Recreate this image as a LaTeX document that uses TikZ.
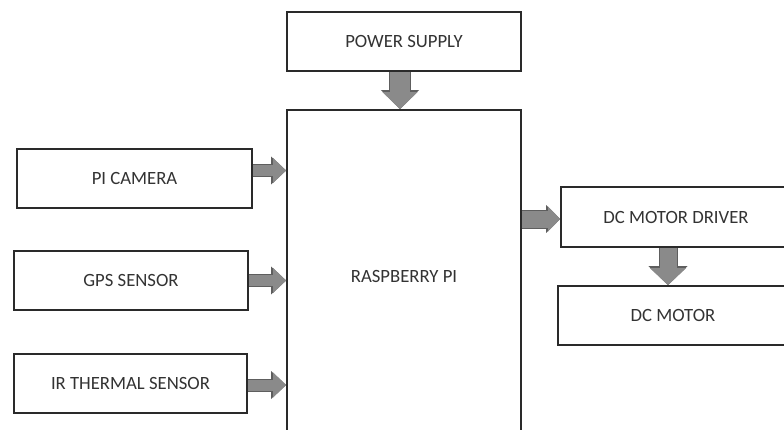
\documentclass[tikz,border=0pt]{standalone}
\usepackage{fontspec}
\setmainfont{Carlito}
\usetikzlibrary{arrows.meta}
\definecolor{arrowfill}{HTML}{8A8A8A}
\definecolor{arrowedge}{HTML}{5E5E5E}
\definecolor{boxline}{HTML}{2A2A2A}
\definecolor{txt}{HTML}{333333}
\begin{document}
\begin{tikzpicture}[x=1bp,y=-1bp,
  blk/.style={draw=boxline, line width=1.7bp, fill=white, rectangle, inner sep=0pt,
    text=txt, font=\fontsize{18.7bp}{22bp}\selectfont},
  barrow/.style n args={3}{line width=#1, draw=arrowfill,
    -{Triangle[length=#3, width=#2]},
    preaction={draw=arrowedge, line width=#1+2bp, -{Triangle[length=#3+2bp, width=#2+3bp]}}}
]
\useasboundingbox (0,0) rectangle (784,429);
\fill[white] (0,0) rectangle (784,429);
\clip (0,0) rectangle (784,429);

\node[blk, minimum width=234bp, minimum height=59bp] (ps) at (404,41.5) {POWER SUPPLY};
\node[blk, minimum width=234bp, minimum height=332bp] (rpi) at (404,276) {RASPBERRY PI};
\node[blk, minimum width=235bp, minimum height=59bp] (cam) at (134.5,178.5) {PI CAMERA};
\node[blk, minimum width=234bp, minimum height=59bp] (gps) at (131,280.5) {GPS SENSOR};
\node[blk, minimum width=233bp, minimum height=59bp] (ir) at (130.5,383.5) {IR THERMAL SENSOR};
\node[blk, minimum width=230bp, minimum height=60bp] (drv) at (676,217) {DC MOTOR DRIVER};
\node[blk, minimum width=230bp, minimum height=59bp] (mot) at (673,315.5) {DC MOTOR};

\coordinate (camout) at ([yshift=8bp]cam.east);
\coordinate (irout) at ([yshift=-1.5bp]ir.east);
\coordinate (drvin) at ([yshift=-2bp]drv.west);
\coordinate (drvout) at ([xshift=-8bp]drv.south);
\coordinate (psout) at ([xshift=-4bp]ps.south);

\draw[barrow={20bp}{34bp}{17bp}] (psout) -- (psout |- rpi.north);
\draw[barrow={11bp}{24bp}{13bp}] (camout) -- (rpi.west |- camout);
\draw[barrow={11bp}{24bp}{13bp}] (gps.east) -- (rpi.west |- gps.east);
\draw[barrow={11bp}{24bp}{13bp}] (irout) -- (rpi.west |- irout);
\draw[barrow={17bp}{24bp}{12bp}] (rpi.east |- drvin) -- (drvin);
\draw[barrow={17bp}{35bp}{17bp}] (drvout) -- (drvout |- mot.north);
\end{tikzpicture}
\end{document}
